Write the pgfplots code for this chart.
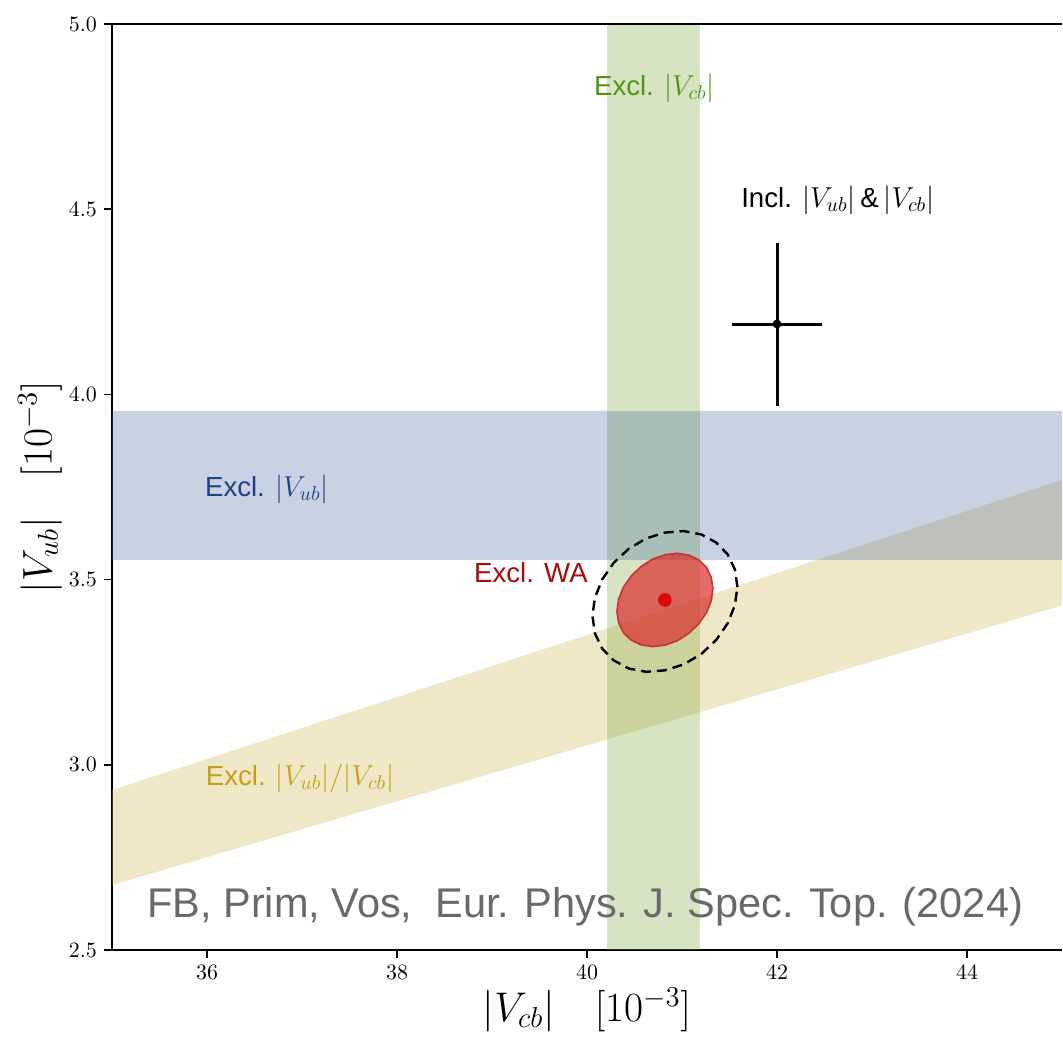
\documentclass[border=0pt]{standalone}
\usepackage{fontspec}
\setmainfont{Liberation Sans}
\usepackage{pgfplots}
\pgfplotsset{compat=1.18}
\definecolor{gband}{RGB}{118,165,58}
\definecolor{bband}{RGB}{72,105,158}
\definecolor{yband}{RGB}{205,172,72}
\definecolor{gtext}{RGB}{77,150,20}
\definecolor{btext}{RGB}{30,65,135}
\definecolor{ytext}{RGB}{200,160,20}
\definecolor{rtext}{RGB}{170,10,10}
\definecolor{redfill}{RGB}{218,45,40}
\definecolor{rededge}{RGB}{200,50,50}
\definecolor{reddot}{RGB}{220,10,10}
\definecolor{wmark}{RGB}{105,105,105}
\begin{document}
\begin{tikzpicture}
\begin{axis}[
  name=ax,
  scale only axis,
  width=475pt, height=463pt,
  xmin=35, xmax=45, ymin=2.5, ymax=5,
  axis x line*=bottom, axis y line*=left,
  axis line style={line width=1pt, black},
  tick align=outside,
  major tick length=4pt,
  tick style={line width=0.8pt, black},
  xtick={36,38,40,42,44},
  ytick={2.5,3.0,3.5,4.0,4.5,5.0},
  yticklabel style={/pgf/number format/.cd, fixed, fixed zerofill, precision=1},
  tick label style={font=\fontsize{11}{13}\selectfont},
  xlabel={$|V_{cb}|\quad[10^{-3}]$},
  ylabel={$|V_{ub}|\quad[10^{-3}]$},
  label style={font=\fontsize{20}{24}\selectfont},
  xlabel style={at={(axis description cs:0.5,-0.0648)}, anchor=center},
  ylabel style={at={(axis description cs:-0.0758,0.5)}, anchor=center},
]
% ratio band
\addplot[draw=none, fill=yband, fill opacity=0.3] coordinates {(35,2.675) (45,3.43) (45,3.769) (35,2.932)} -- cycle;
% Vcb band
\addplot[draw=none, fill=gband, fill opacity=0.3] coordinates {(40.21,2.4) (41.19,2.4) (41.19,5.1) (40.21,5.1)} -- cycle;
% Vub band
\addplot[draw=none, fill=bband, fill opacity=0.3] coordinates {(34.9,3.553) (45.1,3.553) (45.1,3.955) (34.9,3.955)} -- cycle;
% red ellipse
\addplot[draw=rededge, line width=0.8pt, fill=redfill, fill opacity=0.7] coordinates {
(41.325,3.476) (41.308,3.506) (41.258,3.533) (41.177,3.553) (41.073,3.566) (40.951,3.571)
(40.820,3.567) (40.689,3.555) (40.567,3.535) (40.463,3.509) (40.382,3.479) (40.332,3.447)
(40.315,3.414) (40.332,3.384) (40.382,3.357) (40.463,3.337) (40.567,3.324) (40.689,3.319)
(40.820,3.323) (40.951,3.335) (41.073,3.355) (41.177,3.381) (41.258,3.411) (41.308,3.443)
} -- cycle;
% dashed ellipse
\addplot[draw=black, line width=1.2pt, dash pattern=on 5pt off 3pt] coordinates {
(41.583,3.480) (41.557,3.527) (41.481,3.568) (41.360,3.600) (41.202,3.622) (41.018,3.631)
(40.820,3.627) (40.622,3.611) (40.438,3.583) (40.280,3.545) (40.159,3.500) (40.083,3.451)
(40.057,3.402) (40.083,3.355) (40.159,3.314) (40.280,3.282) (40.438,3.260) (40.622,3.251)
(40.820,3.255) (41.018,3.271) (41.202,3.299) (41.360,3.337) (41.481,3.382) (41.557,3.431)
} -- cycle;
% WA central value
\addplot[only marks, mark=*, mark size=3.2pt, color=reddot] coordinates {(40.82,3.445)};
% inclusive point
\addplot[only marks, black, mark=*, mark size=2pt,
  error bars/.cd, x dir=both, x explicit, y dir=both, y explicit,
  error bar style={line width=1.5pt, black}, error mark=none]
  coordinates {(42.0,4.19) +- (0.47,0.22)};
% labels
\node[text=gtext, font=\fontsize{13.8}{16}\selectfont] at (axis cs:40.71,4.827) {Excl. $|V_{cb}|$};
\node[text=black, font=\fontsize{13.8}{16}\selectfont] at (axis cs:42.64,4.525) {Incl. $|V_{ub}|\,\&\,|V_{cb}|$};
\node[text=btext, font=\fontsize{13.8}{16}\selectfont] at (axis cs:36.63,3.745) {Excl. $|V_{ub}|$};
\node[text=rtext, font=\fontsize{13.8}{16}\selectfont] at (axis cs:39.41,3.52) {Excl. WA};
\node[text=ytext, font=\fontsize{13.8}{16}\selectfont] at (axis cs:36.98,2.964) {Excl. $|V_{ub}|/|V_{cb}|$};
\node[text=wmark, font=\fontsize{20.75}{24}\selectfont] at (axis cs:39.98,2.616) {FB, Prim, Vos,\ \ Eur. Phys. J. Spec. Top. (2024)};
\end{axis}
\draw[line width=1pt] (ax.north west) -- (ax.north east);
\pgfresetboundingbox
\path[use as bounding box] ([shift={(-56pt,-45.5pt)}]ax.south west) rectangle ([shift={(0.5pt,12pt)}]ax.north east);
\end{tikzpicture}
\end{document}
